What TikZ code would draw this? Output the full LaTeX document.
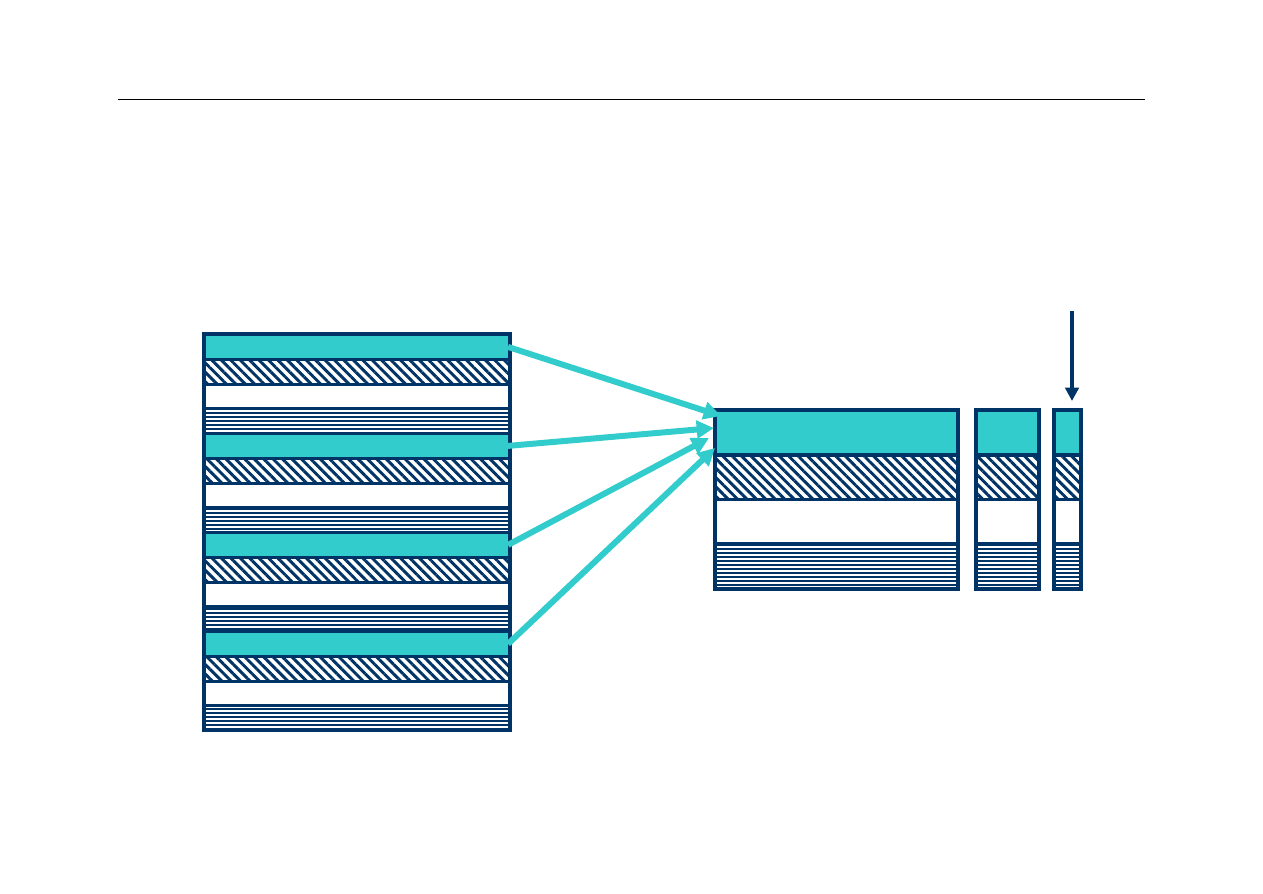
\documentclass[tikz,border=0pt]{standalone}
\usepackage{tikz}
\usetikzlibrary{arrows.meta, patterns.meta}

\definecolor{navyblue}{RGB}{0,51,102}
\definecolor{tealcyan}{RGB}{51,204,204}

\begin{document}
\begin{tikzpicture}[
  x=0.75pt, y=-0.75pt,
  frame/.style    = {rectangle, fill=navyblue, inner sep=0pt},
  row/.style      = {rectangle, inner sep=0pt, outer sep=0pt},
  cyanrow/.style  = {fill=tealcyan},
  hatchrow/.style = {preaction={fill=white}, pattern color=navyblue,
                     pattern={Lines[angle=-45, distance=5pt, line width=2.2pt]}},
  blankrow/.style = {fill=white},
  linerow/.style  = {preaction={fill=white}, pattern color=navyblue,
                     pattern={Lines[angle=0, distance=3pt, line width=1.7pt]}},
  feedarr/.style  = {-{Triangle[length=13pt, width=13pt]}, line width=4.5pt, tealcyan},
  downarr/.style  = {-{Triangle[length=10pt, width=10pt]}, line width=3pt, navyblue},
]
\useasboundingbox (0,0) rectangle (1263,893);

% title rule
\draw[line width=0.75pt] (118,99) -- (1145,99);

% source block
\node[frame, minimum width=232.5pt, minimum height=300pt] (src) at (357,532) {};
\foreach \g in {0,...,3}
  \foreach \j/\s in {0/cyanrow, 1/hatchrow, 2/blankrow, 3/linerow}
    \node[row, \s, minimum width=226.5pt, minimum height=16.3pt]
      (r\g\j) at (357, 336+\g*99+\j*24.75+10.9) {};

% target blocks
\foreach \b/\l/\r in {big/713/960, mid/974/1041, tiny/1052/1083} {
  \node[frame, minimum width={(\r-\l)*0.75pt}, minimum height=137.25pt]
    (\b) at ({(\l+\r)/2}, 499.5) {};
  \foreach \j/\s in {0/cyanrow, 1/hatchrow, 2/blankrow, 3/linerow}
    \node[row, \s, minimum width={(\r-\l-8)*0.75pt}, minimum height=31.1pt]
      (\b\j) at ({(\l+\r)/2}, 412+\j*44.5+20.75) {};
}

\coordinate (t0) at (721,416);
\coordinate (t1) at (714,428);
\coordinate (t2) at (709,438);
\coordinate (t3) at (715,448);
\coordinate (feed) at (1072,311);
\coordinate (feedend) at (1072,401);

\foreach \g in {0,...,3}
  \draw[feedarr] (r\g0.east) -- (t\g);
\draw[downarr] (feed) -- (feedend);
\end{tikzpicture}
\end{document}
